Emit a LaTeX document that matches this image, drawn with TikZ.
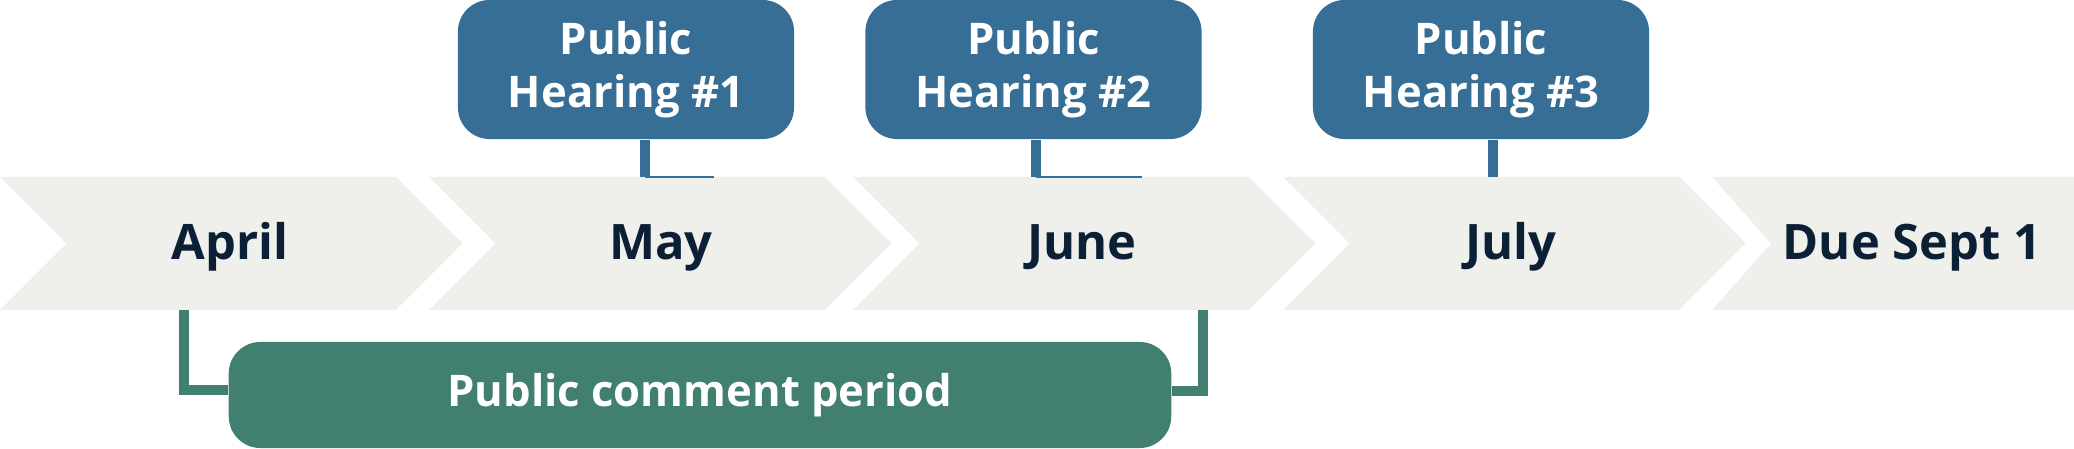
\documentclass[tikz,border=0pt]{standalone}
\usepackage{fontspec}
\setmainfont{Open Sans}
\usepackage{tikz}

\definecolor{hearingblue}{HTML}{376E95}
\definecolor{commentgreen}{HTML}{418070}
\definecolor{bandgray}{HTML}{EFEFEB}
\definecolor{monthtext}{HTML}{0B1F35}

\begin{document}
\begin{tikzpicture}[x=0.01cm, y=0.01cm,
                month/.style={font=\fontsize{13.9}{16}\selectfont\bfseries, text=monthtext, anchor=base},
                hearing/.style={fill=hearingblue, rounded corners=9pt, minimum width=3.36cm,
                    minimum height=1.39cm, align=center, text=white, inner sep=0pt,
                    font=\fontsize{12.4}{15.1}\selectfont\bfseries},
                comment/.style={fill=commentgreen, rounded corners=9pt, minimum width=9.42cm,
                    minimum height=1.06cm, text=white, inner sep=0pt,
                    font=\fontsize{12.4}{15}\selectfont\bfseries},
                hstem/.style={draw=hearingblue, line width=2.85pt},
                cstem/.style={draw=commentgreen, line width=2.85pt}]
            \useasboundingbox (0,0) rectangle (2074,449);
            % timeline band
            \foreach \l in {0,429,853,1283}
                \fill[bandgray] (\l,272) -- ++(396,0) -- ++(66.5,-66.5) -- ++(-66.5,-66.5)
                    -- ++(-396,0) -- ++(66.5,66.5) -- cycle;
            \fill[bandgray] (1712,272) -- (2074,272) -- (2074,139) -- (1712,139) -- (1771,205.5) -- cycle;
            \node[month] (apr) at (230,189) {April};
            \node[month] (may) at (661,189) {May};
            \node[month] (jun) at (1082,189) {June};
            \node[month] (jul) at (1511,189) {July};
            \node[month] (due) at (1912,189) {Due Sept 1};
            % hearings
            \node[hearing] (h1) at (626,379.5) {Public\\Hearing \#1};
            \node[hearing] (h2) at (1033.5,379.5) {Public\\Hearing \#2};
            \node[hearing] (h3) at (1481,379.5) {Public\\Hearing \#3};
            \coordinate (t1) at (645,272);
            \coordinate (t2) at (1036,272);
            \coordinate (t3) at (1493,272);
            \coordinate (e1) at (714,272);
            \coordinate (e2) at (1142,272);
            \draw[hstem] (h1.south -| t1) -- (t1);
            \draw[hstem] (h2.south -| t2) -- (t2);
            \draw[hstem] (h3.south -| t3) -- (t3);
            \draw[hearingblue, line width=0.3pt] (t1) -- (e1);
            \draw[hearingblue, line width=0.3pt] (t2) -- (e2);
            % comment period
            \node[comment] (cp) at (700,54) {\raisebox{-1pt}{Public comment period}};
            \coordinate (c1) at (184,139);
            \coordinate (c2) at (1203,139);
            \draw[cstem] (c1) |- ([yshift=1.3pt]cp.west);
            \draw[cstem] (c2) |- ([yshift=1pt]cp.east);
        \end{tikzpicture}
\end{document}
